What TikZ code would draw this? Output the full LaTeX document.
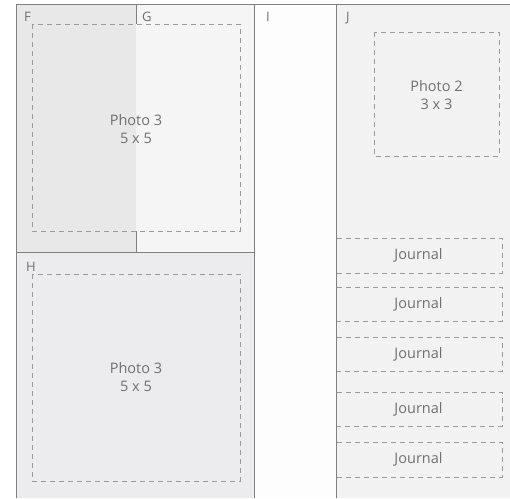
\documentclass[tikz,border=0pt]{standalone}
\usepackage{fontspec}
\setmainfont{Open Sans}
\definecolor{edge}{HTML}{808080}
\definecolor{dashc}{HTML}{9A9A9A}
\definecolor{txt}{HTML}{707070}
\definecolor{fF}{HTML}{E8E8E8}
\definecolor{fG}{HTML}{F5F5F5}
\definecolor{fH}{HTML}{ECECEE}
\definecolor{fI}{HTML}{FDFDFD}
\definecolor{fJ}{HTML}{F2F2F2}
\tikzset{
  slot/.style={draw=dashc, dashed, dash pattern=on 5pt off 4pt, line width=0.9pt},
  divider/.style={draw=edge, line width=1pt},
  lab/.style={text=txt, font=\fontsize{13}{15}\selectfont, anchor=north west, inner sep=0pt},
  captxt/.style={text=txt, font=\fontsize{14.5}{18}\selectfont, align=center}
}
\begin{document}
\begin{tikzpicture}[x=1pt,y=-1pt]
\useasboundingbox (0,0) rectangle (510,498);
% panels
\fill[fF] (16,4) rectangle (136,252);
\fill[fG] (136,4) rectangle (254,252);
\fill[fH] (16,252) rectangle (254,498);
\fill[fI] (254,4) rectangle (336,498);
\fill[fJ] (336,4) rectangle (510,498);
% dividers
\draw[divider] (16,498) -- (16,4) -- (510,4);
\draw[divider] (136,4) -- (136,24);
\draw[divider] (136,231) -- (136,252);
\draw[divider] (16,252) -- (254,252);
\draw[divider] (254,4) -- (254,498);
\draw[divider] (336,4) -- (336,498);
% photo slots
\draw[slot] (32,24) rectangle (240,231);
\node[captxt] (p3a) at (136,129) {Photo 3\\5 x 5};
\draw[slot] (32,274) rectangle (240,481);
\node[captxt] (p3b) at (136,377) {Photo 3\\5 x 5};
\draw[slot] (374,32) rectangle (499,156);
\node[captxt] (p2) at (436.5,95) {Photo 2\\3 x 3};
% journals
\foreach \a/\b/\n in {238/273/1,287/321/2,337/371/3,392/426/4,442/477/5}{
  \draw[slot] (337,\a) -- (502,\a) -- (502,\b) -- (337,\b);
  \node[captxt] (j\n) at (418.5,{(\a+\b)/2}) {Journal};
}
% labels
\node[lab] (F) at (24,12) {F};
\node[lab] (G) at (142,12) {G};
\node[lab] (H) at (26,262) {H};
\node[lab] (I) at (266,12) {I};
\node[lab] (J) at (346,12) {J};
\end{tikzpicture}
\end{document}
